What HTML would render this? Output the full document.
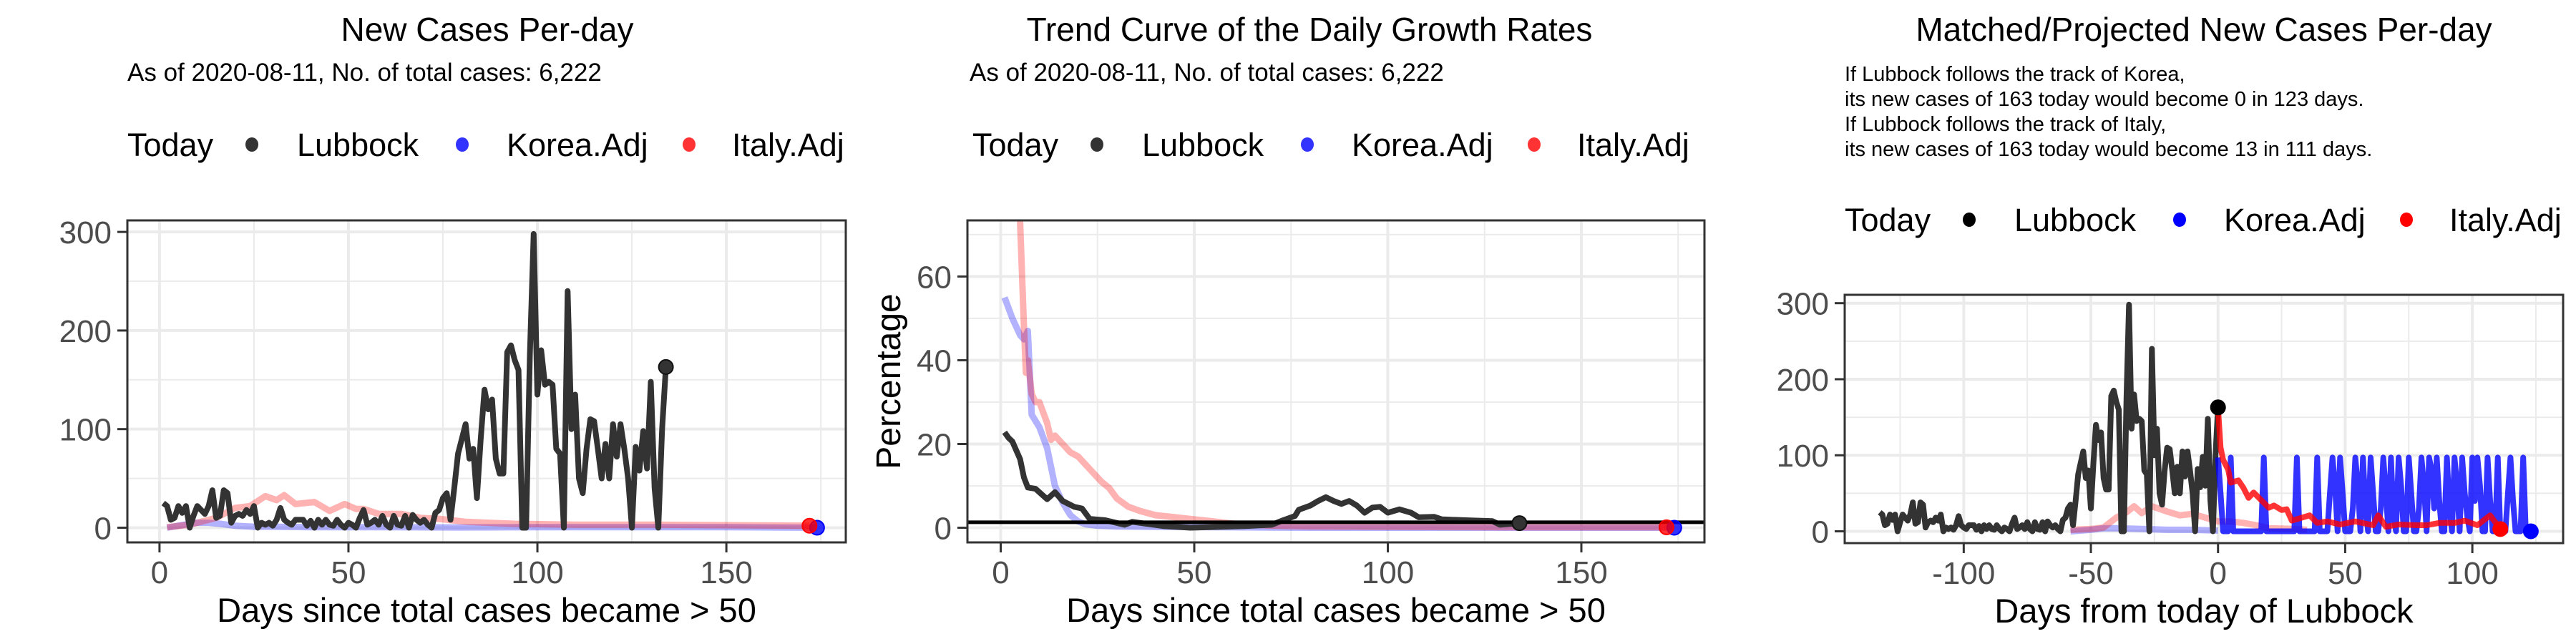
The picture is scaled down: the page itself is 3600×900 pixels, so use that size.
<!DOCTYPE html>
<html><head><meta charset="utf-8"><style>
html,body{margin:0;padding:0;background:#fff;}
svg{display:block;font-family:"Liberation Sans",Arial,sans-serif;}
</style></head><body>
<svg id="chart" width="3600" height="900" viewBox="0 0 3600 900" xmlns="http://www.w3.org/2000/svg"></svg>
<script>
// ---------- data ----------
const lubbockDays = [];
for (let i = 1; i <= 134; i++) lubbockDays.push(i);
const lubbockCases = [25,22,8,10,22,15,22,0,12,22,18,14,22,38,10,12,38,35,5,12,14,12,18,14,22,0,5,3,5,2,8,20,8,5,3,8,8,8,2,7,0,8,3,8,3,2,8,3,0,5,3,0,10,18,3,5,8,3,12,3,0,12,3,2,12,0,13,8,5,8,3,0,15,18,30,35,8,40,75,90,105,70,80,30,90,140,120,130,70,55,55,178,185,170,160,0,0,175,298,135,180,145,148,145,80,75,0,240,100,135,50,35,80,110,108,80,50,85,50,105,72,105,80,50,0,82,58,98,60,148,40,0,100,163];
const koreaDays = [2,5,8,10,13,16,20,25,30,40,60,80,100,130,150,174];
const koreaCases = [0,2,4,5,5,4,2,1,1,0.5,0.5,0.3,0.5,0.5,0.5,0];
const italyDays = [2,8,15,20,24,28,31,33,36,41,45,49,52,54,58,64,69,74,81,87,94,110,130,150,172];
const italyCases = [0.5,3,10,20,22,32,28,33,24,26,17,24,19,19,14,14,10,9,6,5,4,3,3,2.5,2];
const todayValue = 163;

const lubGrowthDays = [1,2,3,5,6,7,9,12,14,16,19,21,23,27,32,34,42,49,63,70,73,76,77,80,82,84,86,88,90,92,94,96,98,100,103,106,108,112,114,120,127,129,134];
const lubGrowth = [22.8,21.5,20.6,16.4,12,9.6,9.3,6.8,8.5,6.4,5,4.6,2.1,1.8,0.7,1.4,0.4,0,0.4,0.7,1.8,2.8,4.3,5.3,6.4,7.3,6.4,5.7,6.4,5.3,3.6,4.8,5,3.6,4.4,3.6,2.5,2.6,2,1.8,1.6,0.7,1.1];
const korGrowthDays = [1,3,5,6,7,8,10,12,14,16,18,20,22,25,30,40,60,80,100,130,156,174];
const korGrowth = [55,50,46,45,47,27,24,19,10,6,3,1.5,0.8,0.5,0.3,0.2,0.1,0,0,0,0,0];
const itaGrowthDays = [2,3,4,5,6,6.5,7,8,9,10,12,13,14,16,18,20,22,24,26,28,30,33,36,40,45,50,55,60,70,80,100,130,172];
const itaGrowth = [80,80,80,73,48,37,40,32,30,30,25,21,22,20,18,17,15,13,11,9.5,7,5,4,3,2.5,2,1.5,1,0.5,0.3,0.2,0.1,0.1];
const refGrowth = 1.3;

const korProj = [97,50,0,0,0,97,0,0,0,0,0,0,0,0,0,0,0,0,97,0,0,0,0,0,0,0,0,0,0,0,0,97,0,0,0,0,0,0,0,97,0,0,0,0,50,97,60,0,97,50,0,0,0,30,97,60,0,97,30,0,97,50,0,0,30,97,50,0,97,20,0,97,60,0,0,97,50,0,0,30,97,60,0,97,80,30,97,40,0,0,97,30,0,97,60,0,97,50,20,0,97,40,97,60,0,0,97,40,0,0,97,0,0,0,50,97,40,0,0,0,97,0,0,0];
const itaProjDays = [0,1,2,4,5,8,10,12,14,17,20,22,25,27,29,33,36,39,43,48,54,61,63,66,71,78,82,87,93,97,102,107,111];
const itaProj = [163,110,94,81,64,67,57,44,51,41,31,34,28,29,14,18,21,11,13,9,13,8,21,6,9,8,8,11,11,14,8,21,3];
const itaHistDays = [-58,-50,-45,-40,-36,-33,-30,-26,-20,-15,-10,-5,0,5,10,15,20,30,35];
const itaHist = [2,3,5,18,25,33,24,33,26,21,23,18,13,13,11,8,4,3,2];
const korHistDays = [-58,-50,-45,-40,-30,-20,-10,0];
const korHist = [0,2,4,4,3,2,2,1];
const xTicks1 = [0,50,100,150];
const yTicks1 = [0,100,200,300];
const yTicks2 = [0,20,40,60];
const xTicks3 = [-100,-50,0,50,100];

// ---------- helpers ----------
const NS = "http://www.w3.org/2000/svg";
const svg = document.getElementById("chart");
function mk(tag, attrs, parent) {
  const e = document.createElementNS(NS, tag);
  for (const k in attrs) e.setAttribute(k, attrs[k]);
  (parent || svg).appendChild(e);
  return e;
}
function scale(d0, d1, r0, r1) { return v => r0 + (v - d0) * (r1 - r0) / (d1 - d0); }
function pathFrom(xs, ys, sx, sy) {
  let d = "";
  for (let i = 0; i < xs.length; i++) d += (i ? "L" : "M") + sx(xs[i]).toFixed(1) + "," + sy(ys[i]).toFixed(1);
  return d;
}

function panel(p) {
  const g = mk("g", {});
  
  
  const clipId = p.name + "-clip";
  const cp = mk("clipPath", {id: clipId}, g);
  mk("rect", {x: p.L, y: p.T, width: p.R - p.L, height: p.B - p.T}, cp);
  const sx = scale(p.xd[0], p.xd[1], p.L, p.R);
  const sy = scale(p.yd[0], p.yd[1], p.B, p.T);
  const grid = mk("g", {}, g);
  
  
  p.xMinor.forEach(v => { mk("line", {x1: sx(v), x2: sx(v), y1: p.T, y2: p.B, stroke: "#EBEBEB", "stroke-width": 2}, grid); });
  p.yMinor.forEach(v => { mk("line", {y1: sy(v), y2: sy(v), x1: p.L, x2: p.R, stroke: "#EBEBEB", "stroke-width": 2}, grid); });
  p.xTicks.forEach(v => { mk("line", {x1: sx(v), x2: sx(v), y1: p.T, y2: p.B, stroke: "#EBEBEB", "stroke-width": 4}, grid); });
  p.yTicks.forEach(v => { mk("line", {y1: sy(v), y2: sy(v), x1: p.L, x2: p.R, stroke: "#EBEBEB", "stroke-width": 4}, grid); });
  const plot = mk("g", {"clip-path": "url(#" + clipId + ")"}, g);
  
  
  p.series.forEach(s => {
    const path = mk("path", {d: pathFrom(s.x, s.y, sx, sy), fill: "none", stroke: s.color, "stroke-width": s.w || 8, "stroke-opacity": s.op, "stroke-linejoin": "round"}, plot);
    
    
  });
  if (p.hline !== undefined) {
    const hl = mk("line", {x1: p.L, x2: p.R, y1: sy(p.hline), y2: sy(p.hline), stroke: "#000", "stroke-width": 5}, plot);
    
    
  }
  p.dots.forEach(dt => {
    const c = mk("circle", {cx: sx(dt.x), cy: sy(dt.y), r: 10, fill: dt.color, "fill-opacity": dt.op || 1, stroke: dt.stroke || dt.color, "stroke-width": 2}, plot);
    
    
  });
  const frame = mk("rect", {x: p.L, y: p.T, width: p.R - p.L, height: p.B - p.T, fill: "none", stroke: "#333", "stroke-width": 3}, g);
  
  
  const xa = mk("g", {}, g);
  
  
  p.xTicks.forEach(v => {
    mk("line", {x1: sx(v), x2: sx(v), y1: p.B, y2: p.B + 14, stroke: "#333", "stroke-width": 3}, xa);
    const t = mk("text", {x: sx(v), y: p.B + 57, "text-anchor": "middle", "font-size": 44, fill: "#4D4D4D"}, xa);
    t.textContent = v;
    
    
  });
  const ya = mk("g", {}, g);
  
  
  p.yTicks.forEach(v => {
    mk("line", {x1: p.L - 14, x2: p.L, y1: sy(v), y2: sy(v), stroke: "#333", "stroke-width": 3}, ya);
    const t = mk("text", {x: p.L - 22, y: sy(v) + 16, "text-anchor": "end", "font-size": 44, fill: "#4D4D4D"}, ya);
    t.textContent = v;
    
    
  });
  const xt = mk("text", {x: (p.L + p.R) / 2, y: p.B + 111, "text-anchor": "middle", "font-size": 47, fill: "#000"}, g);
  xt.textContent = p.xTitle;
  
  
  if (p.yTitle) {
    const cy = (p.T + p.B) / 2;
    const yt = mk("text", {x: 1258, y: cy, "text-anchor": "middle", "font-size": 48, fill: "#000", transform: "rotate(-90 1258 " + cy + ")"}, g);
    yt.textContent = p.yTitle;
    
    
  }
  const tt = mk("text", {x: p.titleX, y: 57, "text-anchor": "middle", "font-size": 46, fill: "#000"}, g);
  tt.textContent = p.title;
  
  
  p.subLines.forEach((s, i) => {
    const st = mk("text", {x: p.subX, y: 113 + i * 35, "font-size": p.subSize, fill: "#000"}, g);
    st.textContent = s;
    
    
  });
  const lg = mk("g", {}, g);
  
  
  const o = p.legX, by = p.legY;
  const lt = mk("text", {x: o, y: by, "font-size": 45, fill: "#000"}, lg);
  lt.textContent = "Today";
  
  
  const items = [["Lubbock", p.legColors[0], 174, 237], ["Korea.Adj", p.legColors[1], 468, 530], ["Italy.Adj", p.legColors[2], 785, 845]];
  items.forEach(it => {
    const c = mk("ellipse", {cx: o + it[2], cy: by - 16, rx: 9, ry: 10, fill: it[1]}, lg);
    
    
    const t = mk("text", {x: o + it[3], y: by, "font-size": 45, fill: "#000"}, lg);
    t.textContent = it[0];
    
    
  });
}

const cols1 = ["#333333", "#3333FF", "#FF3333"];
const sub1 = ["As of 2020-08-11, No. of total cases: 6,222"];

panel({
  name: "new-cases-panel", L: 178, R: 1182, T: 308, B: 758,
  xd: [-8.5, 181.6], yd: [-14.9, 311.7],
  xTicks: xTicks1, yTicks: yTicks1, xMinor: [25, 75, 125, 175], yMinor: [50, 150, 250],
  xTitle: "Days since total cases became > 50", title: "New Cases Per-day", titleX: 681,
  subX: 178, subLines: sub1, subSize: 35, legX: 178, legY: 218, legColors: cols1,
  series: [
    {name: "korea-line", x: koreaDays, y: koreaCases, color: "#0000FF", op: 0.3, w: 9},
    {name: "italy-line", x: italyDays, y: italyCases, color: "#FF0000", op: 0.3, w: 9},
    {name: "lubbock-line", x: lubbockDays, y: lubbockCases, color: "#333333", op: 1},
  ],
  dots: [
    {name: "lubbock-today-point", x: lubbockDays[lubbockDays.length - 1], y: todayValue, color: "#333", stroke: "#111"},
    {name: "korea-end-point", x: koreaDays[koreaDays.length - 1], y: koreaCases[koreaCases.length - 1], color: "#0000FF", op: 0.8},
    {name: "italy-end-point", x: italyDays[italyDays.length - 1], y: italyCases[italyCases.length - 1], color: "#FF0000", op: 0.8},
  ]
});

panel({
  name: "growth-rate-panel", L: 1352, R: 2382, T: 308, B: 758,
  xd: [-8.6, 181.8], yd: [-3.5, 73.4],
  xTicks: xTicks1, yTicks: yTicks2, xMinor: [25, 75, 125, 175], yMinor: [10, 30, 50, 70],
  xTitle: "Days since total cases became > 50", yTitle: "Percentage",
  title: "Trend Curve of the Daily Growth Rates", titleX: 1830,
  subX: 1355, subLines: sub1, subSize: 35, legX: 1359, legY: 218, legColors: cols1, hline: refGrowth,
  series: [
    {name: "korea-growth-line", x: korGrowthDays, y: korGrowth, color: "#0000FF", op: 0.3, w: 9},
    {name: "italy-growth-line", x: itaGrowthDays, y: itaGrowth, color: "#FF0000", op: 0.3, w: 9},
    {name: "lubbock-growth-line", x: lubGrowthDays, y: lubGrowth, color: "#333333", op: 1},
  ],
  dots: [
    {name: "lubbock-today-point", x: lubGrowthDays[lubGrowthDays.length - 1], y: lubGrowth[lubGrowth.length - 1], color: "#333", stroke: "#111"},
    {name: "korea-end-point", x: korGrowthDays[korGrowthDays.length - 1], y: korGrowth[korGrowth.length - 1], color: "#0000FF", op: 0.8},
    {name: "italy-end-point", x: itaGrowthDays[itaGrowthDays.length - 1], y: itaGrowth[itaGrowth.length - 1], color: "#FF0000", op: 0.8},
  ]
});

const lubRelDays = lubbockDays.map(d => d - lubbockDays[lubbockDays.length - 1]);
const korProjDays = korProj.map((v, i) => i);
panel({
  name: "projection-panel", L: 2578, R: 3582, T: 412, B: 759,
  xd: [-146.8, 135.7], yd: [-15.5, 311],
  xTicks: xTicks3, yTicks: yTicks1, xMinor: [-125, -75, -25, 25, 75, 125], yMinor: [50, 150, 250],
  xTitle: "Days from today of Lubbock", title: "Matched/Projected New Cases Per-day", titleX: 3080,
  subX: 2578, subSize: 29, subLines: ["If Lubbock follows the track of Korea,", "its new cases of 163 today would become 0 in 123 days.", "If Lubbock follows the track of Italy,", "its new cases of 163 today would become 13 in 111 days."],
  legX: 2578, legY: 323, legColors: ["#000000", "#0000FF", "#FF0000"],
  series: [
    {name: "korea-history-line", x: korHistDays, y: korHist, color: "#0000FF", op: 0.3, w: 9},
    {name: "italy-history-line", x: itaHistDays, y: itaHist, color: "#FF0000", op: 0.3, w: 9},
    {name: "lubbock-line", x: lubRelDays, y: lubbockCases, color: "#333333", op: 1},
    {name: "korea-projection-line", x: korProjDays, y: korProj, color: "#0000FF", op: 0.8},
    {name: "italy-projection-line", x: itaProjDays, y: itaProj, color: "#FF0000", op: 0.8},
  ],
  dots: [
    {name: "lubbock-today-point", x: 0, y: todayValue, color: "#000"},
    {name: "korea-end-point", x: korProjDays[korProjDays.length - 1], y: korProj[korProj.length - 1], color: "#0000FF"},
    {name: "italy-end-point", x: itaProjDays[itaProjDays.length - 1], y: itaProj[itaProj.length - 1], color: "#FF0000"},
  ]
});
</script>
</body></html>
